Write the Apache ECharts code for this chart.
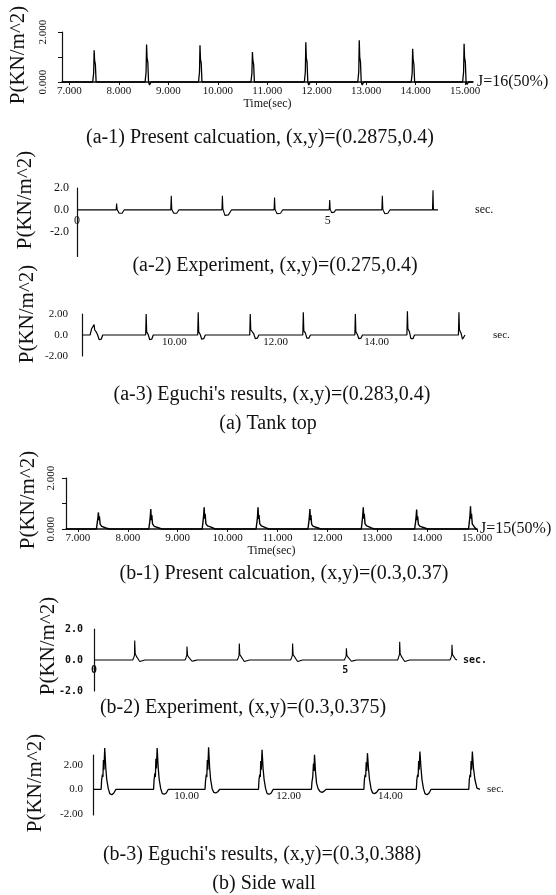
<!DOCTYPE html>
<html lang="en">
<head>
<meta charset="UTF-8">
<title>Impact pressure histories</title>
<script src="https://cdn.jsdelivr.net/npm/echarts@6/dist/echarts.min.js"></script>
<style>
  html, body { margin: 0; padding: 0; background: #fff; }
  #chart { width: 556px; height: 895px; }
</style>
</head>
<body>
<div id="chart"></div>
<script>
  // tick values
  var calcTicks = [7, 8, 9, 10, 11, 12, 13, 14, 15];
  var expTicks = [0, 5];
  var eguchiTicks = [10, 12, 14];
  var calcYTicks = [0, 1, 2];
  var calcYLabels = [0, 2];
  var pmTicks = [-2, 0, 2];

  // (a-1) present calculation, tank top  [time, P]
  var tankCalc = [
    [6.85, 0],
    [7.47, 0], [7.49, 0.35], [7.50, 1.27], [7.51, 0.85], [7.525, 0.7], [7.54, 0], [7.56, -0.06], [7.59, 0],
    [8.53, 0], [8.55, 0.4], [8.56, 1.50], [8.57, 0.95], [8.585, 0.8], [8.60, 0], [8.62, -0.12], [8.65, 0],
    [9.61, 0], [9.63, 0.4], [9.64, 1.47], [9.65, 0.9], [9.665, 0.75], [9.68, 0], [9.70, -0.08], [9.73, 0],
    [10.67, 0], [10.69, 0.35], [10.70, 1.20], [10.71, 0.85], [10.725, 0.7], [10.74, 0], [10.76, -0.05], [10.79, 0],
    [11.75, 0], [11.77, 0.4], [11.78, 1.59], [11.79, 0.95], [11.805, 0.8], [11.82, 0], [11.84, -0.12], [11.87, 0],
    [12.83, 0], [12.85, 0.4], [12.86, 1.67], [12.87, 1.0], [12.885, 0.8], [12.90, 0], [12.92, -0.12], [12.95, 0],
    [13.91, 0], [13.93, 0.35], [13.94, 1.33], [13.95, 0.9], [13.965, 0.7], [13.98, 0], [14.00, -0.05], [14.03, 0],
    [14.95, 0], [14.97, 0.4], [14.98, 1.53], [14.99, 0.95], [15.005, 0.8], [15.02, 0], [15.04, -0.1], [15.07, 0],
    [15.16, 0]
  ];

  // (a-2) experiment, tank top
  var tankExp = [
    [0, 0],
    [0.78, 0], [0.79, 0.58], [0.80, 0.05], [0.84, -0.3], [0.90, -0.3], [0.94, 0],
    [1.87, 0], [1.88, 1.29], [1.89, 0.05], [1.93, -0.3], [1.99, -0.3], [2.03, 0],
    [2.89, 0], [2.90, 1.29], [2.91, 0.1], [2.95, -0.5], [3.02, -0.45], [3.08, 0],
    [3.93, 0], [3.94, 1.14], [3.95, 0.05], [3.99, -0.35], [4.06, -0.3], [4.10, 0],
    [5.03, 0], [5.04, 0.91], [5.05, 0.05], [5.08, -0.25], [5.13, -0.2], [5.16, 0],
    [6.08, 0], [6.09, 1.29], [6.10, 0.05], [6.14, -0.35], [6.20, -0.3], [6.24, 0],
    [7.09, 0], [7.10, 1.80], [7.11, 0], [7.20, 0]
  ];

  // (a-3) Eguchi, tank top
  var tankEguchi = [
    [8.17, 0],
    [8.33, 0], [8.36, 0.6], [8.39, 0.7], [8.41, 1.0], [8.42, 0.5], [8.45, 0.3], [8.48, 0], [8.51, -0.45], [8.55, -0.4], [8.58, 0],
    [9.43, 0], [9.44, 2.0], [9.45, 0.3], [9.48, 0.05], [9.51, -0.45], [9.55, -0.4], [9.58, 0],
    [10.46, 0], [10.47, 2.17], [10.48, 0.3], [10.51, 0.05], [10.54, -0.4], [10.58, -0.35], [10.61, 0],
    [11.49, 0], [11.50, 2.0], [11.51, 0.5], [11.54, 0.4], [11.57, 0.1], [11.60, -0.35], [11.64, -0.3], [11.67, 0],
    [12.54, 0], [12.55, 2.17], [12.56, 0.4], [12.59, 0.2], [12.62, -0.3], [12.66, -0.3], [12.69, 0],
    [13.57, 0], [13.58, 2.0], [13.59, 0.3], [13.62, 0.05], [13.65, -0.35], [13.69, -0.3], [13.72, 0],
    [14.60, 0], [14.61, 2.26], [14.62, 0.6], [14.65, 0.3], [14.68, -0.35], [14.72, -0.35], [14.75, 0],
    [15.62, 0], [15.63, 2.17], [15.64, 0.5], [15.67, 0.2], [15.70, -0.4], [15.73, -0.3], [15.75, 0]
  ];

  // (b-1) present calculation, side wall
  var sideCalc = [
    [6.76, 0],
    [7.37, 0], [7.39, 0.3], [7.40, 0.45], [7.41, 0.65], [7.42, 0.35], [7.43, 0.5], [7.445, 0.18], [7.48, 0.1], [7.56, 0.04], [7.63, 0],
    [8.42, 0], [8.44, 0.3], [8.45, 0.5], [8.46, 0.78], [8.47, 0.35], [8.48, 0.55], [8.495, 0.2], [8.53, 0.1], [8.61, 0.05], [8.68, 0],
    [9.49, 0], [9.51, 0.35], [9.52, 0.55], [9.53, 0.85], [9.54, 0.4], [9.55, 0.6], [9.565, 0.2], [9.60, 0.12], [9.68, 0.06], [9.75, 0],
    [10.57, 0], [10.59, 0.3], [10.60, 0.5], [10.61, 0.85], [10.62, 0.4], [10.63, 0.55], [10.645, 0.2], [10.68, 0.12], [10.76, 0.05], [10.83, 0],
    [11.61, 0], [11.63, 0.3], [11.64, 0.5], [11.65, 0.78], [11.66, 0.35], [11.67, 0.55], [11.685, 0.18], [11.72, 0.1], [11.80, 0.05], [11.87, 0],
    [12.68, 0], [12.70, 0.35], [12.71, 0.55], [12.72, 0.85], [12.73, 0.4], [12.74, 0.6], [12.755, 0.2], [12.79, 0.12], [12.87, 0.05], [12.94, 0],
    [13.75, 0], [13.77, 0.3], [13.78, 0.5], [13.79, 0.76], [13.80, 0.35], [13.81, 0.5], [13.825, 0.18], [13.86, 0.1], [13.94, 0.05], [14.01, 0],
    [14.83, 0], [14.85, 0.35], [14.86, 0.55], [14.87, 0.89], [14.88, 0.4], [14.89, 0.6], [14.905, 0.2], [14.94, 0.1], [14.98, 0], [15.0, 0]
  ];

  // (b-2) experiment, side wall
  var sideExp = [
    [0, 0],
    [0.77, 0], [0.79, 0.15], [0.805, 0.3], [0.81, 1.26], [0.82, 0.4], [0.85, 0.2], [0.88, 0.05], [0.91, -0.1], [0.96, -0.05], [1.01, 0],
    [1.81, 0], [1.83, 0.15], [1.845, 0.3], [1.85, 0.87], [1.86, 0.3], [1.89, 0.15], [1.92, 0.03], [1.95, -0.08], [2.00, -0.04], [2.05, 0],
    [2.85, 0], [2.87, 0.15], [2.885, 0.3], [2.89, 1.06], [2.90, 0.35], [2.93, 0.2], [2.96, 0.05], [2.99, -0.1], [3.04, -0.05], [3.09, 0],
    [3.91, 0], [3.93, 0.15], [3.945, 0.3], [3.95, 1.06], [3.96, 0.35], [3.99, 0.2], [4.02, 0.05], [4.05, -0.1], [4.10, -0.05], [4.15, 0],
    [4.98, 0], [5.00, 0.1], [5.015, 0.25], [5.02, 0.76], [5.03, 0.3], [5.06, 0.15], [5.09, 0.03], [5.12, -0.08], [5.17, -0.04], [5.22, 0],
    [6.04, 0], [6.06, 0.2], [6.075, 0.35], [6.08, 1.17], [6.09, 0.4], [6.12, 0.2], [6.15, 0.05], [6.18, -0.1], [6.23, -0.05], [6.28, 0],
    [7.08, 0], [7.10, 0.15], [7.115, 0.3], [7.12, 0.99], [7.13, 0.35], [7.16, 0.2], [7.19, 0.05], [7.22, 0]
  ];

  // (b-3) Eguchi, side wall
  var sideEguchi = [
    [8.16, 0],
    [8.32, 0], [8.33, 0.8], [8.345, 1.2], [8.355, 1.0], [8.365, 2.4], [8.375, 1.6], [8.39, 3.36], [8.41, 1.8], [8.43, 0.8], [8.46, 0.05], [8.49, -0.35], [8.53, -0.45], [8.57, -0.3], [8.61, 0],
    [9.35, 0], [9.36, 0.8], [9.375, 1.3], [9.385, 1.0], [9.395, 2.5], [9.405, 1.7], [9.42, 3.36], [9.44, 1.8], [9.46, 0.8], [9.49, 0.05], [9.52, -0.35], [9.56, -0.4], [9.60, -0.3], [9.64, 0],
    [10.36, 0], [10.37, 0.7], [10.385, 1.2], [10.395, 1.0], [10.405, 2.4], [10.415, 1.6], [10.43, 3.44], [10.45, 1.8], [10.47, 0.8], [10.50, 0.05], [10.53, -0.25], [10.57, -0.3], [10.61, -0.2], [10.65, 0],
    [11.41, 0], [11.42, 0.8], [11.435, 1.2], [11.445, 1.0], [11.455, 2.3], [11.465, 1.6], [11.48, 3.22], [11.50, 1.7], [11.52, 0.8], [11.55, 0.05], [11.58, -0.35], [11.62, -0.4], [11.66, -0.3], [11.70, 0],
    [12.45, 0], [12.46, 0.6], [12.475, 1.0], [12.485, 0.9], [12.49, 2.1], [12.50, 1.5], [12.51, 2.81], [12.53, 1.4], [12.55, 0.5], [12.58, 0.05], [12.62, -0.2], [12.66, -0.25], [12.70, -0.15], [12.74, 0],
    [13.48, 0], [13.49, 0.8], [13.505, 1.2], [13.515, 1.0], [13.525, 2.2], [13.535, 1.5], [13.55, 2.95], [13.57, 1.7], [13.59, 0.8], [13.62, 0.05], [13.65, -0.3], [13.69, -0.35], [13.73, -0.25], [13.77, 0],
    [14.51, 0], [14.52, 0.8], [14.535, 1.2], [14.545, 1.0], [14.555, 2.3], [14.565, 1.6], [14.58, 3.09], [14.60, 1.8], [14.62, 0.8], [14.65, 0.05], [14.68, -0.35], [14.72, -0.45], [14.76, -0.3], [14.80, 0],
    [15.54, 0], [15.55, 0.8], [15.565, 1.2], [15.575, 1.0], [15.585, 2.3], [15.595, 1.6], [15.61, 3.09], [15.63, 1.8], [15.66, 0.8], [15.70, 0.1], [15.76, 0]
  ];

  var serif = '"Liberation Serif", "DejaVu Serif", serif';
  var mono = '"DejaVu Sans Mono", monospace';
  var ink = '#111';

  function fmt3(v) { return v.toFixed(3); }
  function fmt2(v) { return v === 0 ? '0.0' : v.toFixed(2); }
  function fmt1(v) { return v.toFixed(1); }
  function fmt0(v) { return String(v); }

  function txt(size, family, bold) {
    return { fontFamily: family || serif, fontSize: size, color: ink, fontWeight: bold ? 'bold' : 'normal' };
  }

  // x axes: one per panel
  function calcX(i, min, max) {
    return {
      gridIndex: i, type: 'value', min: min, max: max,
      axisLine: { show: true, lineStyle: { color: ink, width: 1.5 } },
      axisTick: { show: true, customValues: calcTicks, length: 3, lineStyle: { color: ink } },
      axisLabel: Object.assign({ customValues: calcTicks, formatter: fmt3, margin: 4 }, txt(11)),
      splitLine: { show: false },
      name: 'Time(sec)', nameLocation: 'middle', nameGap: 16, nameTextStyle: txt(12)
    };
  }
  // the trace draws the baseline; labels are pulled up from the grid bottom to sit under the zero line
  function flatX(i, min, max, ticks, f, margin, gap, style) {
    return {
      gridIndex: i, type: 'value', min: min, max: max,
      axisLine: { show: true, onZero: true, lineStyle: { color: 'rgba(0,0,0,0)', width: 0 } },
      axisTick: { show: false },
      axisLabel: Object.assign({ customValues: ticks, formatter: f, margin: margin }, style),
      splitLine: { show: false },
      name: 'sec.', nameLocation: 'end', nameGap: gap, nameTextStyle: style
    };
  }
  function calcY(i, margin) {
    return {
      gridIndex: i, type: 'value', min: 0, max: 2,
      axisLine: { show: true, onZero: false, lineStyle: { color: ink, width: 1.2 } },
      axisTick: { show: true, customValues: calcYTicks, length: 4, lineStyle: { color: ink } },
      axisLabel: Object.assign({ customValues: calcYLabels, formatter: fmt3, rotate: 90, margin: margin }, txt(11)),
      splitLine: { show: false }
    };
  }
  function pmY(i, min, max, f, margin, style) {
    return {
      gridIndex: i, type: 'value', min: min, max: max,
      axisLine: { show: true, onZero: false, lineStyle: { color: ink, width: 1.2 } },
      axisTick: { show: false },
      axisLabel: Object.assign({ customValues: pmTicks, formatter: f, margin: margin }, style),
      splitLine: { show: false }
    };
  }
  function trace(i, data, w) {
    return {
      type: 'line', xAxisIndex: i, yAxisIndex: i, data: data,
      symbol: 'none', showSymbol: false, clip: false, silent: true,
      lineStyle: { color: '#000', width: w }
    };
  }
  function ytitle(x, y) {
    return {
      type: 'text', x: x, y: y, rotation: Math.PI / 2,
      style: { text: 'P(KN/m^2)', font: '21px ' + serif, fill: ink, align: 'center', verticalAlign: 'middle', textAlign: 'center', textVerticalAlign: 'middle' }
    };
  }
  function caption(x, y, s) {
    return {
      type: 'text', x: x, y: y,
      style: { text: s, font: '20px ' + serif, fill: ink, align: 'center', verticalAlign: 'middle', textAlign: 'center', textVerticalAlign: 'middle' }
    };
  }
  function note(x, y, s) {
    return {
      type: 'text', x: x, y: y,
      style: { text: s, font: '16px ' + serif, fill: ink, align: 'left', verticalAlign: 'middle', textAlign: 'left', textVerticalAlign: 'middle' }
    };
  }

  var gridBoxes = [
    { left: 62, top: 32, width: 411, height: 50 },
    { left: 77, top: 188, width: 361, height: 68.5 },
    { left: 82, top: 314, width: 383, height: 42 },
    { left: 66, top: 478, width: 411, height: 51 },
    { left: 94, top: 629, width: 363, height: 62 },
    { left: 93, top: 755, width: 387, height: 60 }
  ];

  var option = {
    backgroundColor: '#fff',
    animation: false,
    grid: gridBoxes.map(function (g) {
      return Object.assign({ containLabel: false, outerBoundsMode: 'none' }, g);
    }),
    xAxis: [
      calcX(0, 6.85, 15.16),
      flatX(1, 0, 7.2, expTicks, fmt0, -42, 37, txt(12)),
      flatX(2, 8.17, 15.75, eguchiTicks, fmt2, -19, 28, txt(11)),
      calcX(3, 6.76, 15.0),
      flatX(4, 0, 7.22, expTicks, fmt0, -26, 6, txt(10, mono, true)),
      flatX(5, 8.16, 15.76, eguchiTicks, fmt2, -24, 7, txt(11))
    ],
    yAxis: [
      calcY(0, 13),
      pmY(1, -4.25, 2.0, fmt1, 8, txt(12)),
      pmY(2, -2, 2, fmt2, 14, txt(11)),
      calcY(3, 9),
      pmY(4, -2, 2, fmt1, 11, txt(10, mono, true)),
      pmY(5, -2.1, 2.8, fmt2, 10, txt(11))
    ],
    series: [
      trace(0, tankCalc, 1.3),
      trace(1, tankExp, 1.1),
      trace(2, tankEguchi, 1.2),
      trace(3, sideCalc, 1.4),
      trace(4, sideExp, 1.1),
      trace(5, sideEguchi, 1.3)
    ],
    graphic: [
      ytitle(18, 55), ytitle(25, 200), ytitle(27, 314),
      ytitle(28, 500), ytitle(48, 646), ytitle(35, 783),
      note(477, 82, 'J=16(50%)'),
      note(480, 529, 'J=15(50%)'),
      caption(260, 138, '(a-1) Present calcuation, (x,y)=(0.2875,0.4)'),
      caption(275, 266, '(a-2) Experiment, (x,y)=(0.275,0.4)'),
      caption(272, 395, "(a-3) Eguchi's results, (x,y)=(0.283,0.4)"),
      caption(268, 424, '(a) Tank top'),
      caption(284, 574, '(b-1) Present calcuation, (x,y)=(0.3,0.37)'),
      caption(243, 708, '(b-2) Experiment, (x,y)=(0.3,0.375)'),
      caption(262, 855, "(b-3) Eguchi's results, (x,y)=(0.3,0.388)"),
      caption(264, 884, '(b) Side wall')
    ]
  };

  var chart = echarts.init(document.getElementById('chart'), null, { renderer: 'canvas' });
  chart.setOption(option);
</script>
</body>
</html>
